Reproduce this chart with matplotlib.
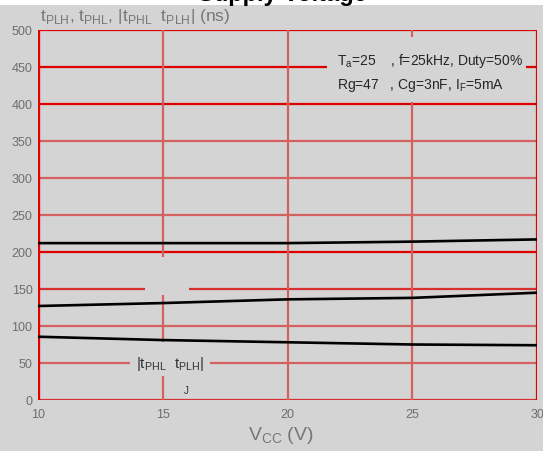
import matplotlib
matplotlib.use("Agg")
import matplotlib.pyplot as plt
from matplotlib.patches import Rectangle

FONT = "Liberation Sans"
plt.rcParams["font.family"] = [FONT, "DejaVu Sans"]
plt.rcParams["mathtext.fontset"] = "custom"
plt.rcParams["mathtext.rm"] = FONT

# Data
vcc = [10, 15, 20, 25, 30]
t_upper = [212, 212, 212, 214, 217]
t_middle = [127, 131, 136, 138, 145]
t_diff = [85.5, 81, 78, 75, 74]
x_ticks = [10, 15, 20, 25, 30]
y_ticks = [0, 50, 100, 150, 200, 250, 300, 350, 400, 450, 500]

BG = "#d4d4d4"
BRIGHT = "#e00000"
FADED = "#d46060"
MED = "#d83030"

fig = plt.figure(figsize=(5.43, 4.52), dpi=100, facecolor=BG)
ax = fig.add_axes([38/543, 51/452, 499/543, 370/452])
ax.set_facecolor(BG)
ax.set_xlim(10, 30)
ax.set_ylim(0, 500)

# grid lines
hcol = {0: MED, 50: FADED, 100: FADED, 150: MED, 200: BRIGHT, 250: FADED,
        300: FADED, 350: FADED, 400: BRIGHT, 450: BRIGHT, 500: BRIGHT}
for y in y_ticks:
    ax.axhline(y, color=hcol[y], lw=1.6, zorder=1)
vcol = {10: BRIGHT, 15: FADED, 20: FADED, 25: FADED, 30: BRIGHT}
for x in x_ticks:
    ax.axvline(x, color=vcol[x], lw=2.4 if x == 10 else 1.6, zorder=1)

for s in ax.spines.values():
    s.set_visible(False)

# masks (label backgrounds)
ax.add_patch(Rectangle((14.3, 142), 1.76, 51, facecolor=BG, edgecolor="none", zorder=2))
ax.add_patch(Rectangle((13.68, 31.8), 3.2, 46, facecolor=BG, edgecolor="none", zorder=2))
ax.add_patch(Rectangle((21.6, 403), 7.96, 88, facecolor=BG, edgecolor="none", zorder=2))

# curves
for series in (t_upper, t_middle, t_diff):
    ax.plot(vcc, series, color="black", lw=1.9, zorder=3, solid_capstyle="butt")

ax.set_xticks(x_ticks)
ax.set_yticks(y_ticks)
ax.tick_params(length=0, colors="#6e6e6e", labelsize=9, pad=4)
ax.tick_params(axis="x", pad=6)

# annotations
ax.text(22.0, 460, r"T$_\mathregular{a}$=25    , f=25kHz, Duty=50%", fontsize=10,
        color="#262626", va="center", ha="left", zorder=4)
ax.text(22.0, 426, r"Rg=47   , Cg=3nF, I$_\mathregular{F}$=5mA", fontsize=10,
        color="#262626", va="center", ha="left", zorder=4)
ax.text(15.3, 50, r"|t$_\mathregular{PHL}$  t$_\mathregular{PLH}$|", fontsize=11,
        color="#333333", va="center", ha="center", zorder=4)
ax.text(15.95, 13, "J", fontsize=7, color="#333333", va="center", ha="center", zorder=4)

# axis titles
fig.text(40/543, 1 - 17/452,
         r"t$_\mathregular{PLH}$, t$_\mathregular{PHL}$, |t$_\mathregular{PHL}$  t$_\mathregular{PLH}$| (ns)",
         fontsize=12.5, color="#777777", ha="left", va="center")
fig.text(281/543, 1 - 436/452, r"V$_\mathregular{CC}$ (V)", fontsize=14,
         color="#777777", ha="center", va="center")

# white title strip at the top with clipped title
fig.patches.append(Rectangle((0, 1 - 6/452), 1, 6/452, transform=fig.transFigure,
                             facecolor="white", edgecolor="none", zorder=0))
fig.text(282/543, 1 - 1/452, "Supply Voltage", fontsize=17, color="black",
         ha="center", va="baseline", fontweight="bold")

fig.savefig("out.png", dpi=100, facecolor=BG)
